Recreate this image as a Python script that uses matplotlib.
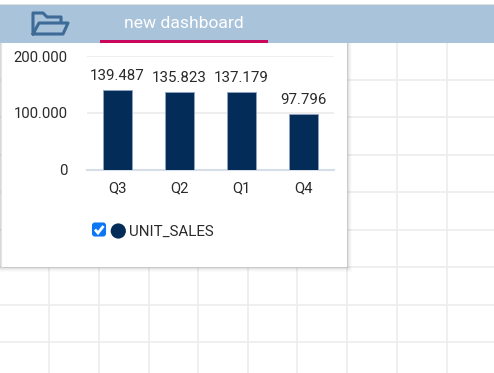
import matplotlib
matplotlib.use('Agg')
import matplotlib.pyplot as plt
from matplotlib.patches import Rectangle, Circle, PathPatch, FancyBboxPatch
from matplotlib.path import Path

plt.rcParams['font.family'] = ['Roboto', 'DejaVu Sans']

quarters = ['Q3', 'Q2', 'Q1', 'Q4']
unit_sales = [139487, 135823, 137179, 97796]
y_ticks = [0, 100000, 200000]
series_name = 'UNIT_SALES'
tab_title = 'new dashboard'

grid_x = [49, 99, 149, 198, 248, 297, 347, 397, 447]
grid_y = [80, 117, 155, 192, 230, 267, 305, 342]

W, H = 494, 373


def dotted(v):
    return f'{v:,.0f}'.replace(',', '.')


fig = plt.figure(figsize=(W / 100, H / 100), dpi=100, facecolor='white')

# page behind the chart, in pixel coordinates
bg = fig.add_axes([0, 0, 1, 1], zorder=0)
bg.set_xlim(0, W)
bg.set_ylim(H, 0)
bg.axis('off')

for x in grid_x:
    bg.plot([x, x], [43, H], color='#ececec', lw=1.2, zorder=1)
for y in grid_y:
    bg.plot([0, W], [y, y], color='#ececec', lw=1.2, zorder=1)

# header
bg.add_patch(Rectangle((0, 4), W, 1.2, color='#e2e2e2', lw=0, zorder=2))
bg.add_patch(Rectangle((0, 5), W, 38, color='#a9c3da', lw=0, zorder=2))
bg.add_patch(Rectangle((100, 40), 168, 3, color='#c9075c', lw=0, zorder=3))
bg.text(184, 23, tab_title, color='white', fontsize=12.6, ha='center',
        va='center', zorder=3)

# folder icon
back = Path([(33, 34), (33, 13), (43, 13), (47, 17), (61, 17), (61, 22)],
            [Path.MOVETO] + [Path.LINETO] * 5)
front = Path([(33, 34), (39, 23), (68, 23), (63, 34), (33, 34)],
             [Path.MOVETO] + [Path.LINETO] * 4)
for p in (back, front):
    bg.add_patch(PathPatch(p, fill=False, ec='#3d6a97', lw=2.2,
                           joinstyle='round', capstyle='round', zorder=3))

# card with soft shadow
for grow, alpha in ((5, 0.015), (4, 0.02), (3, 0.03), (2, 0.04), (1, 0.05)):
    bg.add_patch(Rectangle((-5, 43), 352 + grow, 224 + grow, color='black',
                           alpha=alpha, lw=0, zorder=4))
bg.add_patch(Rectangle((1, 43), 346, 224, color='white', lw=0, zorder=5))
bg.plot([0.5, 0.5], [43, 267], color='#e4e4e4', lw=0.8, zorder=5)

# legend
bg.add_patch(FancyBboxPatch((93, 223.5), 12, 12, boxstyle='round,pad=0,rounding_size=2',
                            fc='#0b76f6', ec='#0b76f6', lw=1.5, zorder=6))
check = Path([(95, 229.5), (98, 233), (103.5, 226)],
             [Path.MOVETO, Path.LINETO, Path.LINETO])
bg.add_patch(PathPatch(check, fill=False, ec='white', lw=2, zorder=7))
bg.add_patch(Circle((118.3, 231), 7.6, fc='#042c58', ec='none', zorder=6))
bg.text(128.5, 232, series_name, color='#2a2a2a', fontsize=10.9, ha='left',
        va='center', zorder=6)

# bar chart
ax = fig.add_axes([86.5 / W, 1 - 169.5 / H, 247.5 / W, 113.5 / H], zorder=2)
ax.patch.set_alpha(0)
bars = ax.bar(quarters, unit_sales, width=0.47, color='#042c58', edgecolor='#8ea6c2',
              linewidth=0.6, zorder=3)
ax.set_xlim(-0.5, 3.5)
ax.set_ylim(0, 200000)
ax.set_yticks(y_ticks)
ax.set_yticklabels([dotted(v) for v in y_ticks])
ax.grid(axis='y', color='#eeeeee', lw=1.4, zorder=0)
ax.set_axisbelow(True)
for s in ('top', 'right', 'left'):
    ax.spines[s].set_visible(False)
ax.spines['bottom'].set_color('#d6deea')
ax.spines['bottom'].set_linewidth(1.5)
ax.tick_params(axis='y', length=0, pad=13.5, labelsize=10.7, labelcolor='#2a2a2a')
ax.tick_params(axis='x', length=0, pad=8.2, labelsize=10.7, labelcolor='#2a2a2a')
ax.bar_label(bars, labels=[dotted(v) for v in unit_sales], padding=5,
             fontsize=10.8, color='#2a2a2a')

fig.savefig('out.png', dpi=100)
